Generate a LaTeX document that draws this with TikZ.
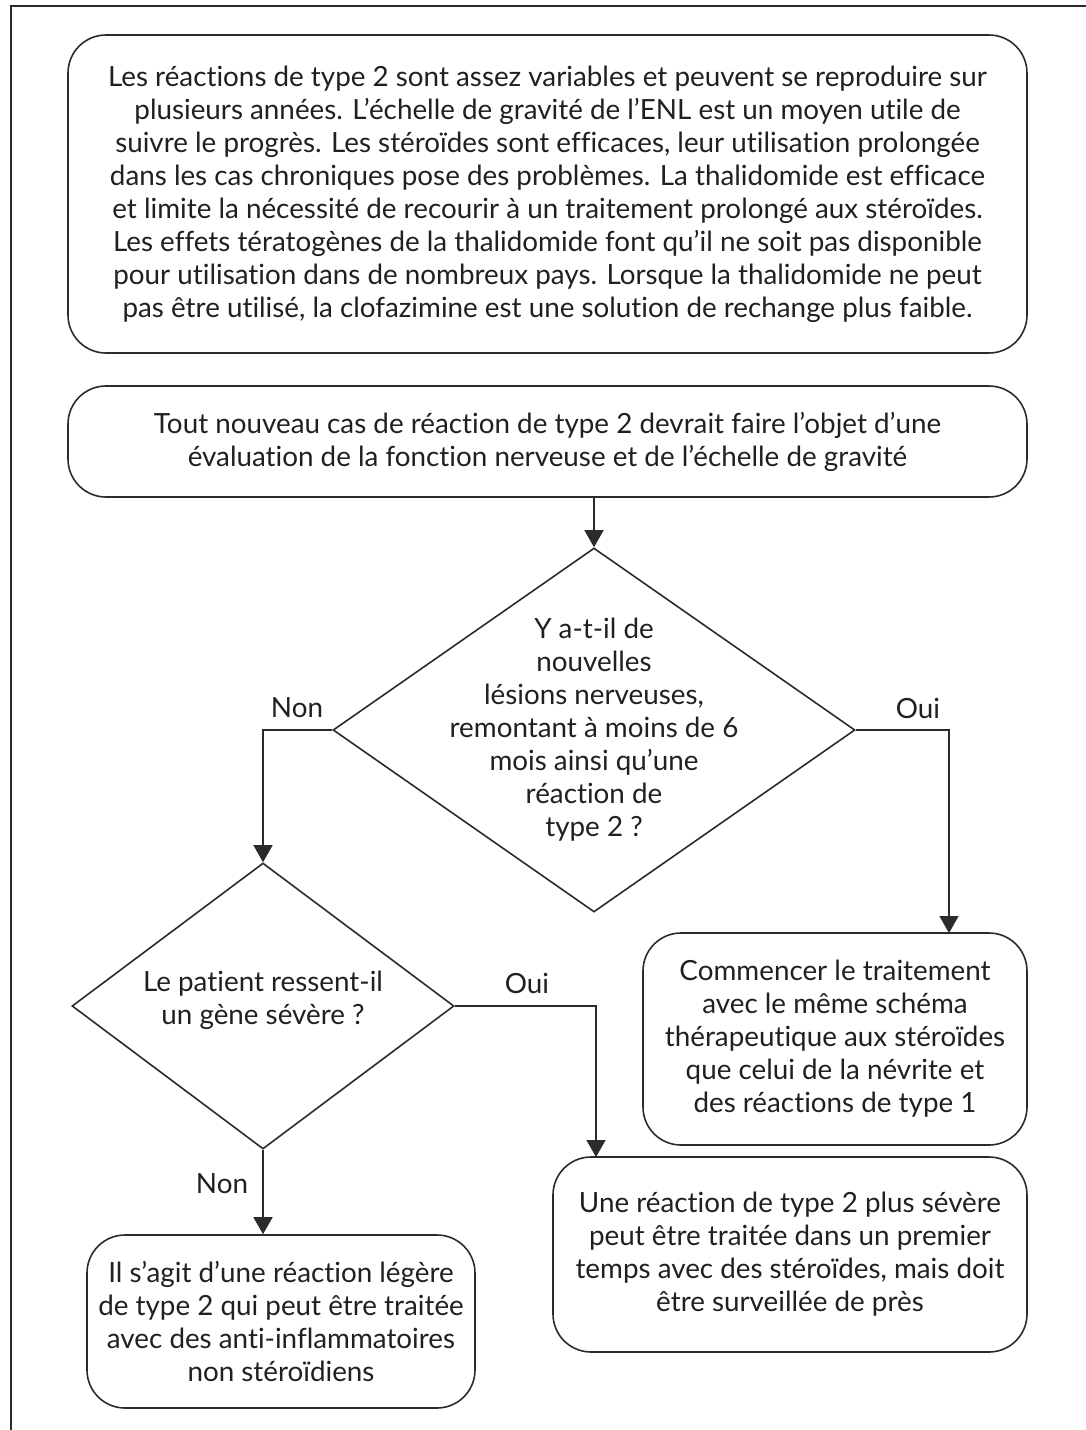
\documentclass[tikz,border=0pt]{standalone}
\usepackage{fontspec}
\setmainfont{Lato}[Ligatures=NoCommon]
\usetikzlibrary{shapes.geometric,arrows.meta}
\definecolor{ink}{HTML}{231F20}
\definecolor{rule}{HTML}{2B2B2B}
\begin{document}
\begin{tikzpicture}[x=1pt,y=-1pt,
  every node/.style={text=ink, font=\fontsize{27.8}{33}\selectfont},
  box/.style={draw=rule, line width=1.6pt, rounded corners=38pt, inner sep=0pt, align=center},
  decision/.style={draw=rule, line width=1.6pt, diamond, inner sep=0pt},
  flow/.style={draw=rule, line width=1.6pt, -{Triangle[length=17pt,width=19pt]}},
  plain/.style={draw=rule, line width=1.6pt},
  lbl/.style={inner sep=0pt}
]
\useasboundingbox (0,0) rectangle (1086,1430);
% outer frame (top and left sides only)
\draw[plain] (11,1430) -- (11,6) -- (1086,6);

% introductory box
\node[box, minimum width=959pt, minimum height=318pt] (intro) at (547.5,194) {%
Les réactions de type 2 sont assez variables et peuvent se reproduire sur\\
plusieurs années. L’échelle de gravité de l’ENL est un moyen utile de\\
suivre le progrès. Les stéroïdes sont efficaces, leur utilisation prolongée\\
dans les cas chroniques pose des problèmes. La thalidomide est efficace\\
et limite la nécessité de recourir à un traitement prolongé aux stéroïdes.\\
Les effets tératogènes de la thalidomide font qu’il ne soit pas disponible\\
pour utilisation dans de nombreux pays. Lorsque la thalidomide ne peut\\
pas être utilisé, la clofazimine est une solution de rechange plus faible.};

% assessment box
\node[box, minimum width=959pt, minimum height=111pt] (assess) at (547.5,441.5) {%
Tout nouveau cas de réaction de type 2 devrait faire l’objet d’une\\
évaluation de la fonction nerveuse et de l’échelle de gravité};

% first decision
\node[decision, minimum width=522pt, minimum height=364pt] (d1) at (594,730) {};
\node[align=center, inner sep=0pt] (d1text) at (594,730) {%
Y a-t-il de\\ nouvelles\\ lésions nerveuses,\\ remontant à moins de 6\\
mois ainsi qu’une\\ réaction de\\ type 2 ?};

% second decision
\node[decision, minimum width=382pt, minimum height=286pt] (d2) at (263,1006) {};
\node[align=center, inner sep=0pt] (d2text) at (263,1000) {%
Le patient ressent-il\\ un gène sévère ?};

% outcome boxes
\node[box, minimum width=384pt, minimum height=212pt] (nerve) at (835,1039) {%
Commencer le traitement\\ avec le même schéma\\ thérapeutique aux stéroïdes\\
que celui de la névrite et\\ des réactions de type 1};
\node[box, minimum width=474pt, minimum height=195pt] (severe) at (790,1254.5) {%
Une réaction de type 2 plus sévère\\ peut être traitée dans un premier\\
temps avec des stéroïdes, mais doit\\ être surveillée de près};
\node[box, minimum width=388pt, minimum height=173pt] (mild) at (281,1321.5) {%
Il s’agit d’une réaction légère\\ de type 2 qui peut être traitée\\
avec des anti-inflammatoires\\ non stéroïdiens};

% entry points on the outcome boxes
\coordinate (nerveIn) at (949,933);
\coordinate (severeIn) at (596,1157);

% connectors
\draw[flow] (assess.south -| d1.north) -- (d1.north);
\draw[flow] (d1.west) -| (d2.north);
\draw[flow] (d1.east) -| (nerveIn);
\draw[flow] (d2.east) -| (severeIn);
\draw[flow] (d2.south) -- (d2.south |- mild.north);

% branch labels
\node[lbl] (non1) at (297,708) {Non};
\node[lbl] (oui1) at (918,708) {Oui};
\node[lbl] (oui2) at (527,983) {Oui};
\node[lbl] (non2) at (222,1184) {Non};
\end{tikzpicture}
\end{document}
